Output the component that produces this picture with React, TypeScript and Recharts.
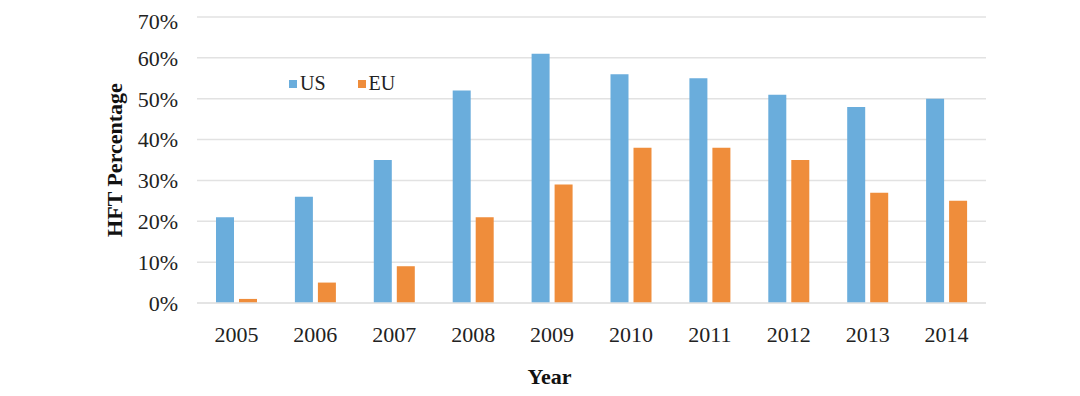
import { BarChart, Bar, XAxis, YAxis, CartesianGrid, Label } from 'recharts';

const years = ['2005', '2006', '2007', '2008', '2009', '2010', '2011', '2012', '2013', '2014'];
const usValues = [21, 26, 35, 52, 61, 56, 55, 51, 48, 50];
const euValues = [1, 5, 9, 21, 29, 38, 38, 35, 27, 25];
const yTicks = [0, 10, 20, 30, 40, 50, 60, 70];
const seriesNames = ['US', 'EU'];

const US_COLOR = '#6aaddc';
const EU_COLOR = '#ef8d3b';
const FONT = '"Liberation Serif", "Times New Roman", serif';

const data = years.map((year, i) => ({ year, US: usValues[i], EU: euValues[i] }));

// legend drawn as an overlay so it doesn't push the plot area around
function ChartLegend() {
  const colors = [US_COLOR, EU_COLOR];
  return (
    <div
      style={{
        position: 'absolute',
        left: 281,
        top: 64,
        display: 'flex',
        alignItems: 'center',
        fontFamily: FONT,
        fontSize: 20,
        color: '#222',
      }}
    >
      {seriesNames.map((name, i) => (
        <div key={name} style={{ display: 'flex', alignItems: 'center', marginRight: 32 }}>
          <span style={{ width: 8, height: 8, background: colors[i], marginRight: 3, display: 'inline-block' }} />
          <span>{name}</span>
        </div>
      ))}
    </div>
  );
}

export default function App() {
  return (
    <div style={{ position: 'relative', width: 1064, height: 380, background: '#fff' }}>
      <BarChart
        width={1064}
        height={380}
        data={data}
        margin={{ top: 9, right: 86, bottom: 0, left: 0 }}
        barSize={18}
        barGap={5}
      >
        <CartesianGrid vertical={false} stroke="#e2e2e2" strokeWidth={1.5} />
        <XAxis
          dataKey="year"
          height={85}
          axisLine={{ stroke: '#e2e2e2', strokeWidth: 1.5 }}
          tickLine={false}
          tickSize={0}
          tickMargin={23}
          tick={{ fontFamily: FONT, fontSize: 22, fill: '#222' }}
        >
          <Label
            value="Year"
            position="insideBottom"
            offset={4}
            dx={-42}
            style={{ fontFamily: FONT, fontSize: 22, fontWeight: 'bold', fill: '#111' }}
          />
        </XAxis>
        <YAxis
          width={189}
          domain={[0, 70]}
          ticks={yTicks}
          axisLine={false}
          tickLine={false}
          tickSize={0}
          tickMargin={19}
          tickFormatter={(v) => `${v}%`}
          tick={{ fontFamily: FONT, fontSize: 22, fill: '#222' }}
        >
          <Label
            value="HFT Percentage"
            angle={-90}
            position="insideLeft"
            offset={0}
            dx={106}
            style={{ fontFamily: FONT, fontSize: 22, fontWeight: 'bold', fill: '#111', textAnchor: 'middle' }}
          />
        </YAxis>
        <Bar dataKey="US" fill={US_COLOR} isAnimationActive={false} />
        <Bar dataKey="EU" fill={EU_COLOR} isAnimationActive={false} />
      </BarChart>
      <ChartLegend />
    </div>
  );
}
